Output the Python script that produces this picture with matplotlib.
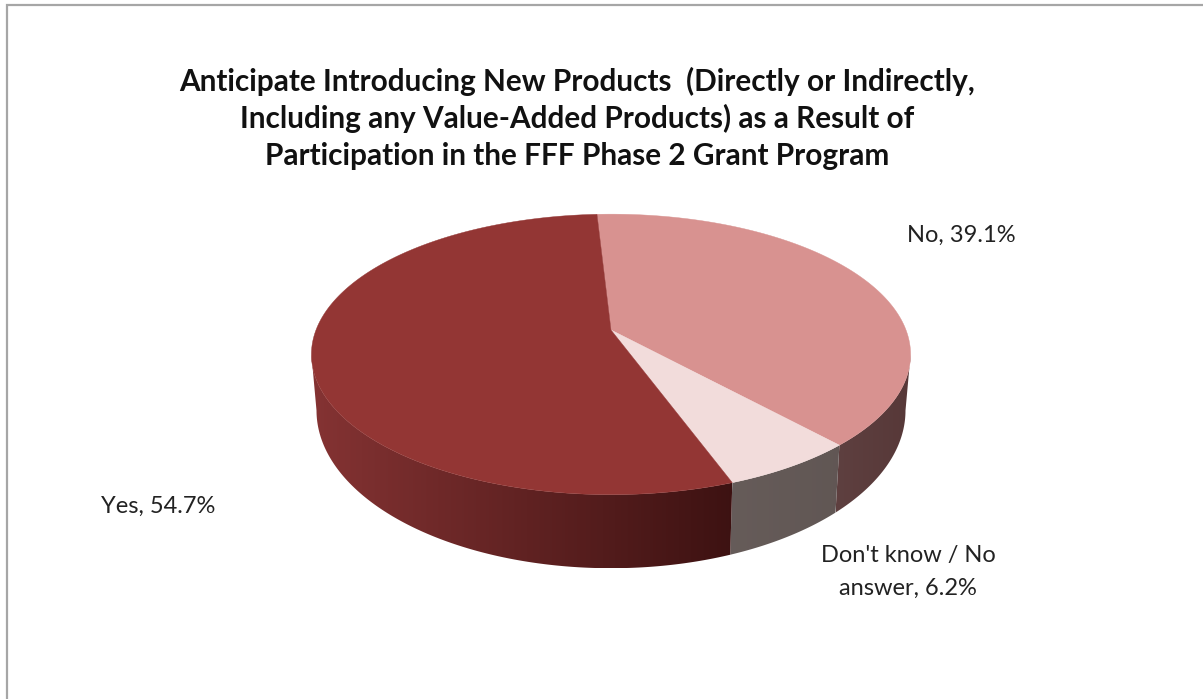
import numpy as np
import matplotlib
matplotlib.use("Agg")
import matplotlib.pyplot as plt
from matplotlib.patches import Polygon

# slices, clockwise from the top of the pie
names = ["No", "Don't know / No\nanswer", "Yes"]
values = [39.1, 6.2, 54.7]
top_colors = ["#d89290", "#f2dcdb", "#933634"]
# side wall colour at the left and right end of each slice
side_left = [(0.37, 0.25, 0.25), (0.40, 0.36, 0.35), (0.52, 0.20, 0.20)]
side_right = [(0.34, 0.22, 0.22), (0.38, 0.34, 0.33), (0.24, 0.07, 0.07)]
label_xy = [(961, 235), (908, 572), (158, 506)]
title = ("Anticipate Introducing New Products  (Directly or Indirectly,\n"
         "Including any Value-Added Products) as a Result of\n"
         "Participation in the FFF Phase 2 Grant Program")

plt.rcParams['font.family'] = ['Lato', 'DejaVu Sans']

start = -3.2  # degrees clockwise from 12 o'clock
k = 0.174     # perspective strength


def project(theta, cx, cy, a, b):
    # tilted circle: the near edge comes out bigger than the far edge
    t = np.radians(theta)
    w = 1 + k * np.cos(t)
    return np.column_stack([cx + a * np.sin(t) / w, cy - b * np.cos(t) / w])


def top_ring(theta):
    return project(theta, 611, 330, 295, 136)


def bottom_ring(theta):
    return project(theta, 611, 383, 290, 153)


fig = plt.figure(figsize=(12.03, 6.99), dpi=100)
ax = fig.add_axes([0, 0, 1, 1])
ax.axis("off")

# chart frame, cut off on the right and at the bottom
ax.plot([7, 7, 1203], [699, 5, 5], color="#a6a6a6", lw=1.6, solid_joinstyle="miter")

edges = start + np.cumsum([0] + values) * 3.6
hidden_from, hidden_to = 100.05, 259.95  # part of the wall that faces the viewer

# side walls: a horizontal gradient clipped to each slice's wall
for i in range(len(values)):
    lo, hi = max(edges[i], hidden_from), min(edges[i + 1], hidden_to)
    if hi <= lo:
        continue
    th = np.linspace(lo, hi, 200)
    wall = np.vstack([top_ring(th), bottom_ring(th)[::-1]])
    x0, x1 = wall[:, 0].min(), wall[:, 0].max()
    y0, y1 = wall[:, 1].min(), wall[:, 1].max()
    f = np.linspace(0, 1, 256)[None, :, None]
    grad = np.array(side_left[i])[None, None, :] * (1 - f) + np.array(side_right[i])[None, None, :] * f
    patch = Polygon(wall, closed=True, transform=ax.transData, fc="none", ec="none")
    ax.add_patch(patch)
    im = ax.imshow(grad, extent=(x0, x1, y1, y0), aspect="auto", interpolation="bilinear")
    im.set_clip_path(patch)

# top face
for i in range(len(values)):
    th = np.linspace(edges[i], edges[i + 1], 240)
    pts = np.vstack([[[611, 330]], top_ring(th)])
    ax.fill(pts[:, 0], pts[:, 1], color=top_colors[i], lw=0.3)

ax.set_xlim(0, 1203)
ax.set_ylim(699, 0)

ax.text(577, 118, title, ha="center", va="center", fontsize=21.4, fontweight="bold",
        color="#111111", linespacing=1.36)

for name, val, (x, y) in zip(names, values, label_xy):
    ax.text(x, y, f"{name}, {val}%", ha="center", va="center", fontsize=17,
            color="#222222", linespacing=1.65)

fig.savefig("out.png", dpi=100)
